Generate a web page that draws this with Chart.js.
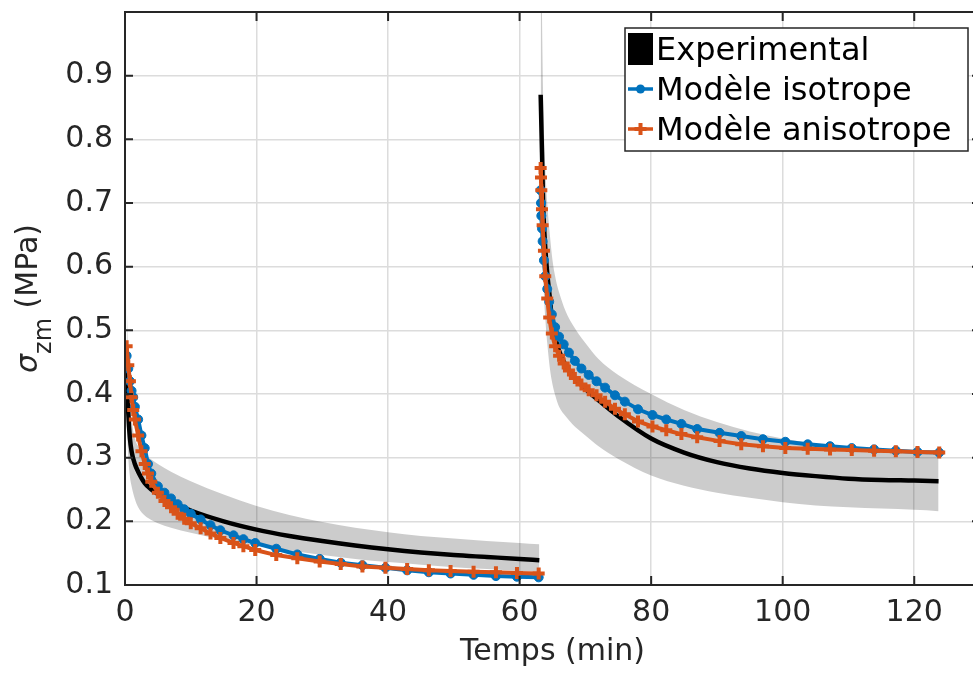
<!DOCTYPE html>
<html>
<head>
<meta charset="utf-8">
<script src="https://cdn.jsdelivr.net/npm/chart.js@4.4.1/dist/chart.umd.min.js"></script>
<style>
    html, body { margin: 0; padding: 0; background: #fff; overflow: hidden; }
    canvas { display: block; }
</style>
</head>
<body>
<canvas id="stressChart" width="990" height="673"></canvas>
<script>
// Axis ticks
const xTicks = [0, 20, 40, 60, 80, 100, 120];
const yTicks = [0.1, 0.2, 0.3, 0.4, 0.5, 0.6, 0.7, 0.8, 0.9];

// Experimental mean and dispersion band, first loading
const expTime1 = [0.25, 0.5, 0.75, 1, 1.5, 2, 3, 4, 5, 7, 10, 15, 20, 25, 30, 35, 40, 45, 50, 55, 60, 63];
const expMean1 = [0.455, 0.37, 0.33, 0.31, 0.29, 0.278, 0.26, 0.25, 0.243, 0.231, 0.217, 0.2, 0.187, 0.177, 0.169, 0.162, 0.156, 0.151, 0.147, 0.144, 0.141, 0.139];
const expUpper1 = [0.55, 0.45, 0.39, 0.36, 0.33, 0.318, 0.305, 0.297, 0.29, 0.278, 0.263, 0.242, 0.224, 0.21, 0.199, 0.19, 0.183, 0.177, 0.173, 0.169, 0.166, 0.164];
const expLower1 = [0.36, 0.3, 0.27, 0.255, 0.235, 0.222, 0.209, 0.202, 0.197, 0.19, 0.182, 0.171, 0.162, 0.154, 0.147, 0.141, 0.136, 0.132, 0.128, 0.125, 0.122, 0.121];

// Experimental mean and dispersion band, second loading
const expTime2 = [63.2, 63.4, 63.6, 63.9, 64.2, 64.6, 65.0, 65.5, 66, 67, 68, 70, 72, 75, 80, 85, 90, 95, 100, 105, 110, 115, 120, 123.7];
const expMean2 = [0.87, 0.78, 0.69, 0.63, 0.59, 0.55, 0.51, 0.485, 0.468, 0.445, 0.43, 0.408, 0.39, 0.365, 0.33, 0.308, 0.293, 0.283, 0.276, 0.271, 0.267, 0.265, 0.264, 0.263];
const expUpper2 = [1.25, 1.0, 0.86, 0.76, 0.7, 0.65, 0.61, 0.58, 0.56, 0.53, 0.51, 0.48, 0.455, 0.43, 0.40, 0.375, 0.356, 0.341, 0.33, 0.322, 0.316, 0.311, 0.307, 0.305];
const expLower2 = [0.75, 0.66, 0.58, 0.52, 0.48, 0.44, 0.415, 0.395, 0.38, 0.365, 0.353, 0.335, 0.318, 0.298, 0.272, 0.256, 0.245, 0.237, 0.23, 0.225, 0.222, 0.22, 0.218, 0.216];

// Models, first loading
const modelTime1 = [0.25, 0.5, 0.75, 1.0, 1.25, 1.5, 2.0, 2.5, 3.0, 3.5, 4.0, 5.0, 6.0, 7.0, 8.0, 9.0, 10.0, 11.5, 13.0, 14.5, 16.5, 18.0, 19.8, 23.0, 26.2, 29.6, 32.8, 36.1, 39.6, 42.9, 46.2, 49.5, 53.0, 56.4, 59.6, 62.9];
const isoVal1 = [0.46, 0.44, 0.42, 0.405, 0.395, 0.38, 0.36, 0.335, 0.315, 0.29, 0.275, 0.255, 0.245, 0.236, 0.227, 0.219, 0.212, 0.203, 0.194, 0.186, 0.178, 0.172, 0.166, 0.157, 0.148, 0.141, 0.135, 0.131, 0.127, 0.123, 0.12, 0.118, 0.116, 0.114, 0.113, 0.112];
const anisoVal1 = [0.475, 0.445, 0.42, 0.395, 0.375, 0.36, 0.335, 0.31, 0.29, 0.275, 0.262, 0.245, 0.232, 0.222, 0.212, 0.204, 0.197, 0.189, 0.181, 0.174, 0.166, 0.161, 0.155, 0.147, 0.142, 0.137, 0.133, 0.129, 0.127, 0.125, 0.123, 0.122, 0.121, 0.12, 0.119, 0.118];

// Models, second loading
const modelTime2 = [63.2, 63.25, 63.3, 63.4, 63.5, 63.7, 63.9, 64.2, 64.5, 64.9, 65.4, 66.0, 66.7, 67.5, 68.4, 69.4, 70.5, 71.7, 73.0, 74.5, 76.0, 78.0, 80.2, 82.3, 84.6, 87.0, 90.4, 93.7, 97.0, 100.4, 103.8, 107.2, 110.5, 113.9, 117.2, 120.5, 123.8];
const isoVal2 = [0.72, 0.7, 0.68, 0.66, 0.64, 0.61, 0.585, 0.565, 0.545, 0.525, 0.505, 0.49, 0.478, 0.465, 0.452, 0.44, 0.43, 0.42, 0.41, 0.398, 0.388, 0.376, 0.367, 0.36, 0.353, 0.345, 0.339, 0.334, 0.329, 0.325, 0.321, 0.318, 0.315, 0.313, 0.311, 0.309, 0.308];
const anisoVal2 = [0.755, 0.74, 0.72, 0.69, 0.665, 0.625, 0.585, 0.55, 0.52, 0.495, 0.475, 0.46, 0.448, 0.437, 0.425, 0.415, 0.406, 0.398, 0.388, 0.377, 0.368, 0.357, 0.349, 0.343, 0.337, 0.332, 0.326, 0.321, 0.318, 0.315, 0.314, 0.313, 0.312, 0.311, 0.31, 0.309, 0.308];

const BLUE = '#0072BD';
const ORANGE = '#D95319';
const AXIS = '#262626';
const FONT = "'DejaVu Sans', sans-serif";

const pts = (xs, ys) => xs.map((x, i) => ({ x: x, y: ys[i] }));

function expLine(label, xs, ys) {
    return {
        label: label, data: pts(xs, ys), order: 3,
        borderColor: '#000', borderWidth: 4.5, pointRadius: 0,
        cubicInterpolationMode: 'monotone', fill: false
    };
}
function isoLine(label, xs, ys) {
    return {
        label: label, data: pts(xs, ys), order: 2,
        borderColor: BLUE, borderWidth: 4,
        pointStyle: 'circle', pointRadius: 4.5, pointBorderWidth: 1,
        pointBackgroundColor: BLUE, pointBorderColor: BLUE, fill: false
    };
}
function anisoLine(label, xs, ys) {
    return {
        label: label, data: pts(xs, ys), order: 1,
        borderColor: ORANGE, borderWidth: 4,
        pointStyle: 'cross', pointRadius: 6, pointBorderWidth: 4,
        pointBackgroundColor: ORANGE, pointBorderColor: ORANGE, fill: false
    };
}
function bandEdge(xs, ys, fill) {
    return {
        label: '', data: pts(xs, ys), order: 5,
        borderColor: 'transparent', borderWidth: 0, pointRadius: 0,
        backgroundColor: 'rgba(0, 0, 0, 0.2)',
        cubicInterpolationMode: 'monotone', fill: fill
    };
}

// Box, inward ticks and y title (with subscript)
const framePlugin = {
    id: 'frame',
    afterDraw(chart) {
        const { ctx, chartArea: a, scales: { x, y } } = chart;
        ctx.save();
        ctx.strokeStyle = AXIS;
        ctx.lineWidth = 2;
        ctx.beginPath();
        ctx.rect(a.left, a.top, a.right - a.left, a.bottom - a.top);
        xTicks.forEach(v => {
            const px = x.getPixelForValue(v);
            ctx.moveTo(px, a.bottom); ctx.lineTo(px, a.bottom - 9);
            ctx.moveTo(px, a.top); ctx.lineTo(px, a.top + 9);
        });
        yTicks.forEach(v => {
            const py = y.getPixelForValue(v);
            ctx.moveTo(a.left, py); ctx.lineTo(a.left + 8, py);
            ctx.moveTo(a.right, py); ctx.lineTo(a.right - 8, py);
        });
        ctx.stroke();

        // y title: sigma_zm (MPa)
        const parts = [
            { t: '\u03C3', f: 'italic 30px ' + FONT, dy: 0 },
            { t: 'zm', f: '24px ' + FONT, dy: 14 },
            { t: ' (MPa)', f: '30px ' + FONT, dy: 0 }
        ];
        let total = 0;
        parts.forEach(p => { ctx.font = p.f; p.w = ctx.measureText(p.t).width; total += p.w; });
        ctx.translate(37, (a.top + a.bottom) / 2);
        ctx.rotate(-Math.PI / 2);
        ctx.fillStyle = AXIS;
        ctx.textBaseline = 'alphabetic';
        ctx.textAlign = 'left';
        let cx = -total / 2;
        parts.forEach(p => { ctx.font = p.f; ctx.fillText(p.t, cx, p.dy); cx += p.w; });
        ctx.restore();
    }
};

// Boxed legend, top right
const legendPlugin = {
    id: 'boxLegend',
    afterDraw(chart) {
        const { ctx } = chart;
        const ds = chart.data.datasets;
        const entries = [ds[0], ds[2], ds[4]];
        const bx = 625, by = 28, bw = 343, bh = 123;
        ctx.save();
        ctx.fillStyle = '#fff';
        ctx.fillRect(bx, by, bw, bh);
        ctx.strokeStyle = AXIS;
        ctx.lineWidth = 1.5;
        ctx.strokeRect(bx, by, bw, bh);
        ctx.font = '32px ' + FONT;
        ctx.textBaseline = 'alphabetic';
        entries.forEach((d, i) => {
            const cy = 49 + i * 40;
            if (i === 0) {
                ctx.fillStyle = '#000';
                ctx.fillRect(628, 33, 25, 32);
            } else {
                ctx.strokeStyle = d.borderColor;
                ctx.lineWidth = 3.5;
                ctx.beginPath();
                ctx.moveTo(628, cy); ctx.lineTo(653, cy);
                ctx.stroke();
                if (d.pointStyle === 'circle') {
                    ctx.fillStyle = d.borderColor;
                    ctx.beginPath();
                    ctx.arc(640.5, cy, 4.5, 0, Math.PI * 2);
                    ctx.fill();
                } else {
                    ctx.lineWidth = 4;
                    ctx.beginPath();
                    ctx.moveTo(640.5, cy - 6); ctx.lineTo(640.5, cy + 6);
                    ctx.moveTo(634.5, cy); ctx.lineTo(646.5, cy);
                    ctx.stroke();
                }
            }
            ctx.fillStyle = '#000';
            ctx.fillText(d.label, 656, cy + 11);
        });
        ctx.restore();
    }
};

const noPad = s => { s.paddingTop = 0; s.paddingBottom = 0; s.paddingLeft = 0; s.paddingRight = 0; };

const ctx = document.getElementById('stressChart').getContext('2d');

new Chart(ctx, {
    type: 'line',
    data: {
        datasets: [
            expLine('Experimental', expTime1, expMean1),
            expLine('', expTime2, expMean2),
            isoLine('Modèle isotrope', modelTime1, isoVal1),
            isoLine('', modelTime2, isoVal2),
            anisoLine('Modèle anisotrope', modelTime1, anisoVal1),
            anisoLine('', modelTime2, anisoVal2),
            bandEdge(expTime1, expUpper1, '+1'),
            bandEdge(expTime1, expLower1, false),
            bandEdge(expTime2, expUpper2, '+1'),
            bandEdge(expTime2, expLower2, false)
        ]
    },
    options: {
        responsive: false,
        animation: false,
        layout: { padding: { left: 0, top: 12, right: 7, bottom: 0 } },
        plugins: {
            legend: { display: false },
            tooltip: { enabled: false }
        },
        scales: {
            x: {
                type: 'linear', min: 0, max: 130,
                afterBuildTicks: s => { s.ticks = xTicks.map(v => ({ value: v })); },
                afterFit: s => { s.height = 88; noPad(s); },
                grid: { color: '#dcdcdc', lineWidth: 1.5, drawTicks: false },
                border: { display: false },
                ticks: {
                    padding: 10, color: AXIS, maxRotation: 0,
                    font: { family: FONT, size: 30 },
                    callback: v => String(v)
                },
                title: {
                    display: true, text: 'Temps (min)', color: AXIS,
                    font: { family: FONT, size: 30 },
                    padding: { top: 0, bottom: 3 }
                }
            },
            y: {
                type: 'linear', min: 0.1, max: 1.0,
                afterBuildTicks: s => { s.ticks = yTicks.map(v => ({ value: v })); },
                afterFit: s => { s.width = 125; noPad(s); },
                grid: { color: '#dcdcdc', lineWidth: 1.5, drawTicks: false },
                border: { display: false },
                ticks: {
                    padding: 12, color: AXIS,
                    font: { family: FONT, size: 30 },
                    callback: v => v.toFixed(1)
                }
            }
        }
    },
    plugins: [framePlugin, legendPlugin]
});
</script>
</body>
</html>
